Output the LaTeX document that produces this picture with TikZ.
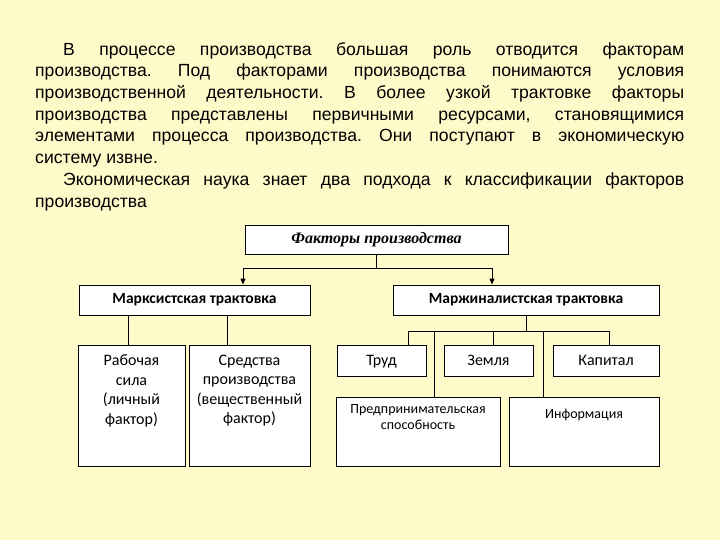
\documentclass[tikz,border=0pt]{standalone}
\usepackage{fontspec}
\setmainfont{Liberation Sans}
\newfontfamily\boxfont{Carlito}
\newfontfamily\headfont{Liberation Serif}
\usetikzlibrary{arrows.meta, calc}
\definecolor{cPage}{RGB}{255, 250, 202}
\definecolor{bLine}{RGB}{0, 0, 0}
\definecolor{cBox}{RGB}{255, 255, 255}

\begin{document}
\begin{tikzpicture}[
    x=1pt, y=-1pt,
    >={Triangle[length=6pt, width=5pt]},
    block/.style={
        draw=bLine,
        fill=cBox,
        line width=0.9pt,
        inner sep=0pt,
        align=center
    },
    small/.style={block, font=\boxfont\fontsize{16}{19.5}\selectfont},
    leaf/.style={small, minimum height=31pt, text height=12pt, text depth=3pt},
    link/.style={line width=0.9pt, color=bLine},
    arrow/.style={->, line width=0.9pt, color=bLine}
]
\fill[cPage] (0,0) rectangle (720,540);
\useasboundingbox (0,0) rectangle (720,540);

% Text above the chart
\node[anchor=north west, inner sep=0pt, text width=649pt, align=justify,
      font=\fontsize{17.6}{21.7}\selectfont] (intro) at (35,42) {%
    \frenchspacing\hyphenpenalty=10000\relax
    \hspace*{28pt}В процессе производства большая роль отводится факторам\linebreak
    производства. Под факторами производства понимаются условия\linebreak
    производственной деятельности. В более узкой трактовке факторы\linebreak
    производства представлены первичными ресурсами, становящимися\linebreak
    элементами процесса производства. Они поступают в экономическую\linebreak
    систему извне.\par
    \hspace*{28pt}Экономическая наука знает два подхода к классификации факторов\linebreak
    производства\par
};

% Top of the chart
\node[block, minimum width=263pt, minimum height=29pt,
      font=\headfont\bfseries\itshape\fontsize{16}{18}\selectfont] (fp) at (376.5,239.5) {Факторы производства};

\node[block, minimum width=231pt, minimum height=30pt,
      font=\boxfont\bfseries\fontsize{15.5}{17}\selectfont] (marx) at (194.5,300) {Марксистская трактовка};
\node[block, minimum width=266pt, minimum height=30pt,
      font=\boxfont\bfseries\fontsize{15.5}{17}\selectfont] (marg) at (526,300) {Маржиналистская трактовка};

\coordinate (fpj) at ([yshift=-14pt]fp.south);
\draw[link] (fp.south) -- (fpj);
\draw[arrow] (fpj) -| ([xshift=48.5pt]marx.north);
\draw[arrow] (fpj) -| ([xshift=-34pt]marg.north);

% Marxist branch
\node[small, minimum width=107pt, minimum height=121pt] (lab) at (131.5,405.5) {%
    \parbox[c][121pt][t]{105pt}{\centering\vspace{10pt}Рабочая\\сила\\(личный\\фактор)}};
\node[small, minimum width=121pt, minimum height=121pt] (mp) at (249.5,405.5) {%
    \parbox[c][121pt][t]{119pt}{\centering\vspace{10pt}Средства\\производства\\(вещественный\\фактор)}};

\draw[link] ([xshift=-3.5pt]lab.north) -- ([xshift=-3.5pt]lab.north |- marx.south);
\draw[link] ([xshift=-22.5pt]mp.north) -- ([xshift=-22.5pt]mp.north |- marx.south);

% Marginalist branch
\node[leaf, minimum width=89pt] (trud) at (381.5,360.5) {Труд};
\node[leaf, minimum width=89pt] (zem) at (488.5,360.5) {Земля};
\node[leaf, minimum width=106pt] (kap) at (606,360.5) {Капитал};
\node[small, minimum width=164pt, minimum height=69pt,
      font=\boxfont\fontsize{14}{16}\selectfont] (pred) at (418,431.5) {%
    \parbox[c][69pt][t]{160pt}{\centering\vspace{8pt}Предпринимательская\\способность}};
\node[small, minimum width=150pt, minimum height=69pt,
      font=\boxfont\fontsize{14}{16}\selectfont] (info) at (584,431.5) {%
    \parbox[c][69pt][t]{146pt}{\centering\vspace{12pt}Информация}};

\coordinate (mgj) at ([yshift=-16pt]marg.south);
\draw[link] (marg.south) -- (mgj);
\draw[link] (mgj) -| ([xshift=26.5pt]trud.north);
\draw[link] (mgj) -| ([xshift=4.5pt]zem.north);
\draw[link] (mgj) -| ([xshift=3pt]kap.north);
\draw[link] (mgj) -| ([xshift=16pt]pred.north);
\draw[link] (mgj) -| ([xshift=-41pt]info.north);

\end{tikzpicture}
\end{document}
